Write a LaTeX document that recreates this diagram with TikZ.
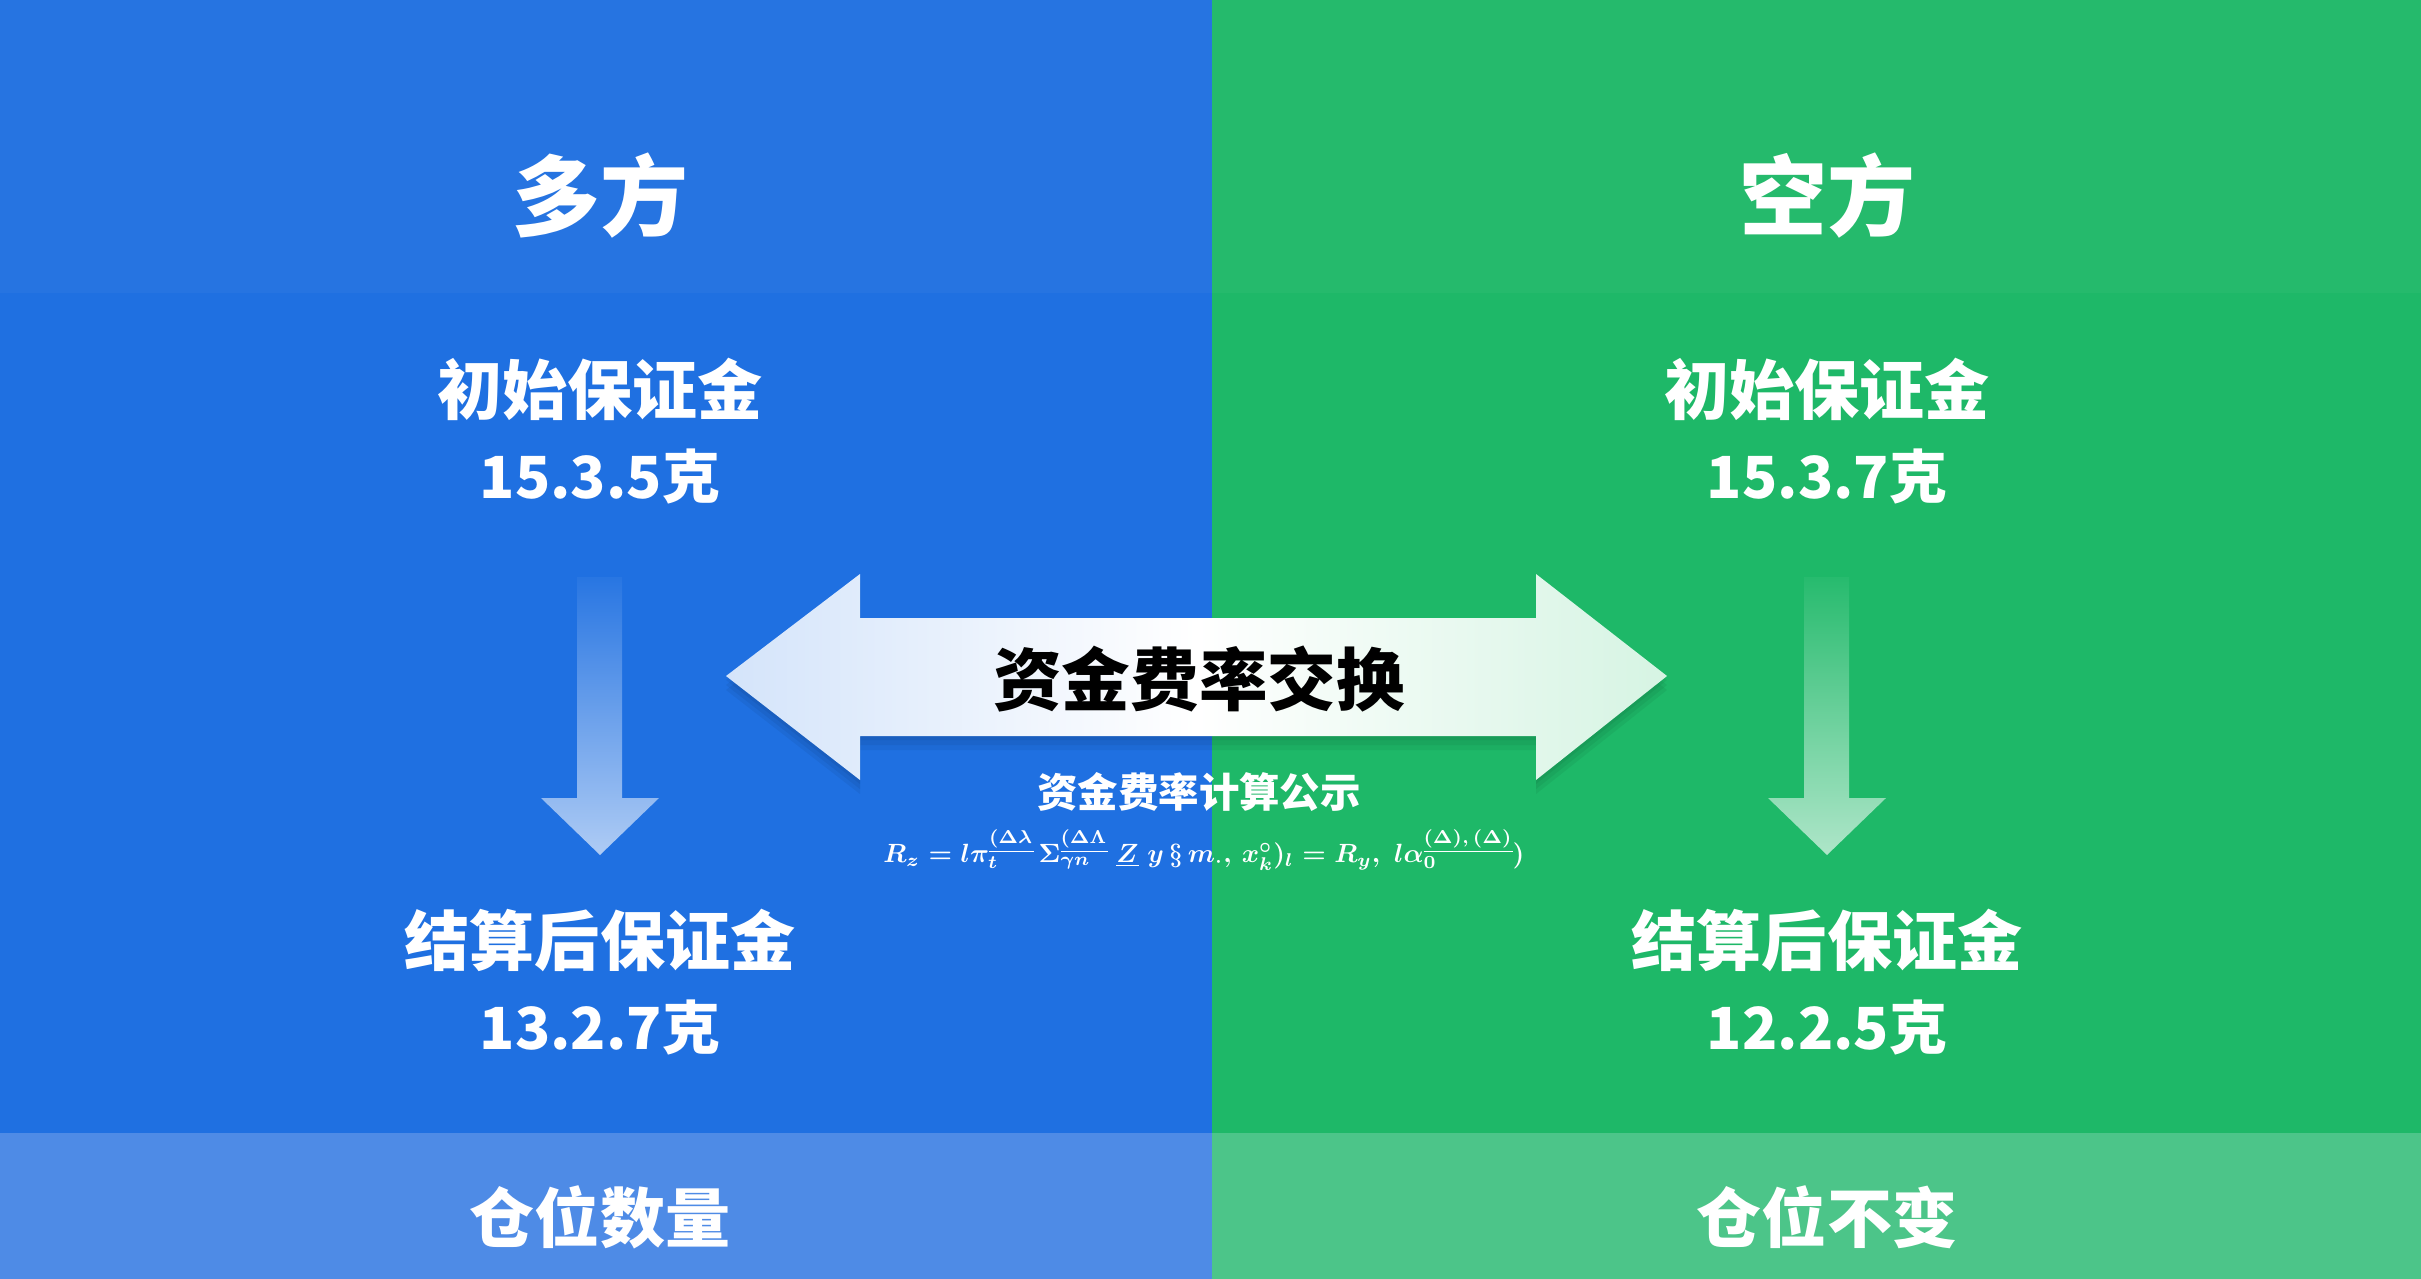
\documentclass[tikz,border=0pt]{standalone}
\usepackage{fontspec}
\usepackage{amsmath}
\usepackage{tikz}
\newfontfamily\cjk{Noto Sans CJK SC}
\definecolor{longblue}{RGB}{31,112,225}
\definecolor{longfoot}{RGB}{78,139,230}
\definecolor{shortgreen}{RGB}{30,184,104}
\definecolor{shortfoot}{RGB}{76,197,137}
\definecolor{swapleft}{RGB}{212,228,250}
\definecolor{swapright}{RGB}{214,244,227}

\begin{document}
\begin{tikzpicture}[x=0.01cm, y=-0.01cm,
  sidetitle/.style={text=white, inner sep=0pt, font=\cjk\bfseries\fontsize{25}{30}\selectfont},
  margintext/.style={text=white, inner sep=0pt, font=\cjk\bfseries\fontsize{18.5}{22}\selectfont},
  amount/.style={text=white, inner sep=0pt, font=\cjk\bfseries\fontsize{16.5}{20}\selectfont},
  swaptext/.style={text=black, inner sep=0pt, font=\cjk\bfseries\fontsize{19.5}{23}\selectfont},
  formulatext/.style={text=white, inner sep=0pt, font=\cjk\bfseries\fontsize{11.5}{14}\selectfont}
]
\useasboundingbox (0,0) rectangle (2421,1279);
% two halves
\fill[longblue] (0,0) rectangle (1212,1279);
\fill[shortgreen] (1212,0) rectangle (2421,1279);
\fill[white, opacity=0.03] (0,0) rectangle (2421,293);
\fill[longfoot] (0,1133) rectangle (1212,1279);
\fill[shortfoot] (1212,1133) rectangle (2421,1279);

% down arrows
\foreach \cx/\bg in {600/longblue, 1827/shortgreen} {
  \shade[top color=\bg!96!white, bottom color=\bg!36!white]
    ({\cx-23},577) -- ({\cx+22},577) -- ({\cx+22},798) -- ({\cx+59},798)
    -- (\cx,855) -- ({\cx-59},798) -- ({\cx-23},798) -- cycle;
}

% exchange arrow
\def\swapoutline{(726,676) -- (860,574) -- (860,618) -- (1536,618) -- (1536,574)
  -- (1667,676) -- (1536,780) -- (1536,736) -- (860,736) -- (860,780) -- cycle}
\foreach \d in {4,9,14}
  \fill[black, opacity=0.05, shift={(0,\d)}] \swapoutline;
\shade[left color=swapleft, right color=swapright, middle color=white] \swapoutline;

% long side
\node[sidetitle] (longtitle) at (600,196) {多方};
\node[margintext] (longinit) at (600,389) {初始保证金};
\node[amount] (longinitval) at (600,476) {15.3.5克};
\node[margintext] (longsettle) at (600,940) {结算后保证金};
\node[amount] (longsettleval) at (600,1027) {13.2.7克};
\node[margintext] (longpos) at (600,1217) {仓位数量};

% short side
\node[sidetitle] (shorttitle) at (1827,196) {空方};
\node[margintext] (shortinit) at (1827,389) {初始保证金};
\node[amount] (shortinitval) at (1827,476) {15.3.7克};
\node[margintext] (shortsettle) at (1827,940) {结算后保证金};
\node[amount] (shortsettleval) at (1827,1027) {12.2.5克};
\node[margintext] (shortpos) at (1827,1217) {仓位不变};

% middle
\node[swaptext] (swap) at (1199,679) {资金费率交换};
\node[formulatext] (formulatitle) at (1199,792) {资金费率计算公示};
\node[text=white, inner sep=0pt] (formula) at (1204,850)
  {\scalebox{0.75}{$\boldsymbol{R_{z} = l\pi^{\underline{(\Delta\lambda}}_{t}\,\Sigma_{\gamma n}^{\underline{(\Delta\Lambda}}\ \underline{Z}\ y\,\S\,m_{\cdot},\,x^{\circ}_{k})_{l} = R_{y},\ l\alpha_{0}^{\underline{(\Delta),\,(\Delta)}})}$}};
\end{tikzpicture}
\end{document}
